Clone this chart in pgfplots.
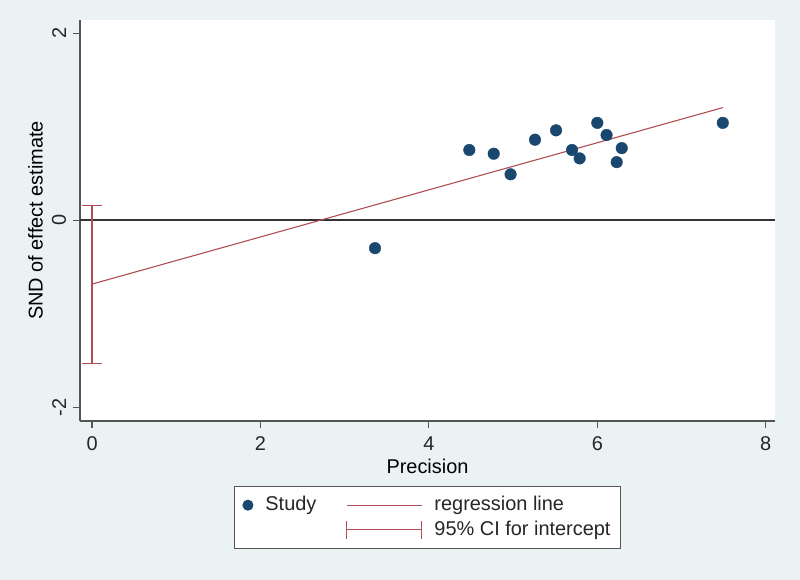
\documentclass[border=0pt]{standalone}
\usepackage{pgfplots}
\pgfplotsset{compat=1.18}
\usepackage{fontspec}
\setmainfont{Liberation Sans}
\definecolor{bgc}{RGB}{234,242,243}
\definecolor{navy}{RGB}{26,71,111}
\definecolor{mar}{RGB}{176,78,84}
\definecolor{axc}{RGB}{85,85,85}
\begin{document}
\fontsize{20}{24}\selectfont
\begin{tikzpicture}
\fill[bgc] (0,0) rectangle (800bp,580bp);
\begin{axis}[
  at={(80bp,159bp)},
  scale only axis,
  width=695bp, height=401bp,
  xmin=-0.143, xmax=8.11,
  ymin=-2.148, ymax=2.14,
  axis x line*=bottom, axis y line*=left,
  axis line style={draw=axc, line width=1.3bp, -},
  axis background/.style={fill=white},
  xtick={0,2,4,6,8}, ytick={-2,0,2},
  tick align=outside, tick pos=left,
  major tick length=7bp,
  every tick/.style={draw=axc, line width=1.1bp},
  /pgf/number format/assume math mode=true,
  ticklabel style={font=\fontsize{20}{24}\selectfont, text=black!85},
  yticklabel style={rotate=90, anchor=south, xshift=0bp},
  xticklabel style={yshift=-2bp},
  xlabel={Precision},
  ylabel={SND of effect estimate},
  label style={font=\fontsize{20}{24}\selectfont, text=black!85},
  every axis x label/.style={at={(axis description cs:0.5,-0.077)}, anchor=north},
  every axis y label/.style={at={(axis description cs:-0.064,0.5)}, anchor=center, rotate=90},
  clip=false,
  legend columns=2,
  legend style={at={(axis description cs:0.5,-0.162)}, anchor=north,
    draw=axc, line width=1bp, fill=white,
    font=\fontsize{20}{24}\selectfont, text=black!85,
    inner xsep=8bp, inner ysep=8bp,
    /tikz/every odd column/.append style={column sep=10bp},
    /tikz/every even column/.append style={column sep=28bp},
    row sep=3bp},
  legend cell align=left,
]
% zero reference line
\addplot[forget plot, black!80, line width=1.5bp] coordinates {(-0.143,0) (8.11,0)};
% 95% CI for intercept
\addplot[forget plot, mar, line width=1.1bp] coordinates {(0,0.16) (0,-1.53)};
\addplot[forget plot, mar, line width=1.1bp] coordinates {(-0.119,0.16) (0.119,0.16)};
\addplot[forget plot, mar, line width=1.1bp] coordinates {(-0.119,-1.53) (0.119,-1.53)};
% regression line
\addplot[forget plot, mar, line width=1.1bp] coordinates {(0,-0.684) (7.49,1.203)};
% studies
\addplot[forget plot, only marks, mark=*, mark size=5.8bp, navy, mark options={fill=navy, draw=navy}] coordinates {
(3.36,-0.30)
(4.48,0.75)
(4.77,0.71)
(4.97,0.49)
(5.26,0.86)
(5.51,0.96)
(5.70,0.75)
(5.79,0.66)
(6.00,1.04)
(6.11,0.91)
(6.29,0.77)
(6.23,0.62)
(7.49,1.04)
};
\addlegendimage{only marks, mark=*, mark size=5bp, navy, mark options={fill=navy}, legend image code/.code={\fill[navy] (5bp,0bp) circle (5bp);}}
\addlegendentry{Study}
\addlegendimage{mar, line width=1.1bp, legend image code/.code={\draw[mar, line width=1.1bp] (0bp,0bp) -- (75bp,0bp);}}
\addlegendentry{regression line}
\addlegendimage{empty legend}
\addlegendentry{}
\addlegendimage{mar, line width=1.1bp, legend image code/.code={\draw[mar, line width=1.1bp] (0bp,0bp) -- (75bp,0bp); \draw[mar, line width=1.1bp] (0bp,-9bp) -- (0bp,9bp); \draw[mar, line width=1.1bp] (75bp,-9bp) -- (75bp,9bp);}}
\addlegendentry{95\% CI for intercept}
\end{axis}
\end{tikzpicture}
\end{document}
